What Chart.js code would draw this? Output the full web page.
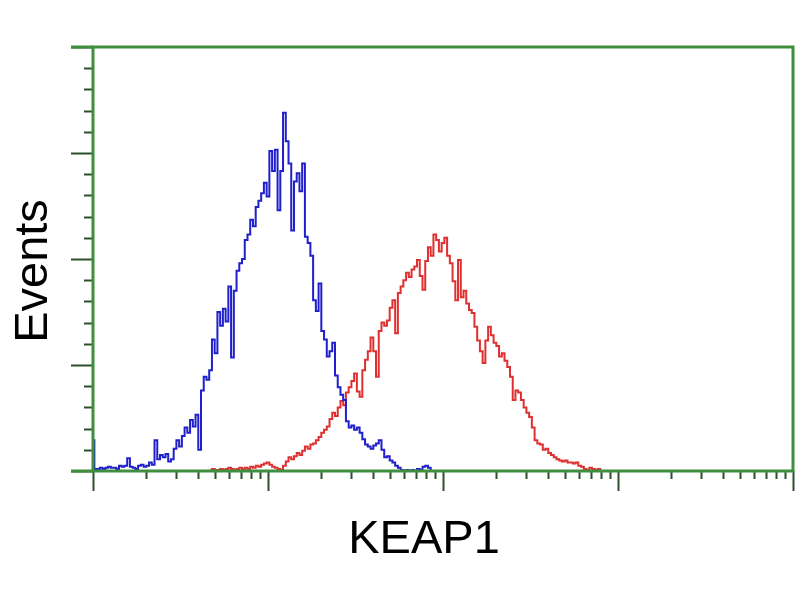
<!DOCTYPE html>
<html>
<head>
<meta charset="utf-8">
<script src="https://cdn.jsdelivr.net/npm/chart.js@4/dist/chart.umd.min.js"></script>
<style>
  body { margin: 0; background: #fff; }
  canvas { display: block; }
</style>
</head>
<body>
<canvas id="histo" width="800" height="600"></canvas>
<script>
const channelsPerDecade = 64;
const xTitle = 'KEAP1';
const yTitle = 'Events';

// Témoin (bleu), à partir du canal 0
const blueStart = 0;
const blueCounts = [
  29, 2, 2, 3, 2, 3, 4, 3, 3, 2,
  5, 4, 5, 12, 4, 3, 2, 5, 6, 4,
  5, 8, 6, 29, 11, 15, 13, 16, 9, 11,
  21, 29, 23, 33, 41, 36, 48, 42, 53, 20,
  76, 89, 86, 95, 124, 111, 150, 137, 153, 141,
  174, 107, 170, 189, 196, 200, 218, 223, 237, 231,
  249, 255, 262, 272, 259, 302, 283, 303, 246, 283,
  338, 311, 290, 227, 273, 281, 264, 290, 221, 215,
  203, 161, 151, 177, 132, 124, 108, 113, 121, 90,
  79, 72, 67, 47, 41, 43, 39, 41, 36, 30,
  25, 23, 21, 24, 26, 29, 20, 13, 14, 10,
  8, 5, 3, 1, 0, 1, 0, 1, 0, 2,
  1, 4, 5, 3, 0
];

// KEAP1 (rouge), à partir du canal 43
const redStart = 43;
const redCounts = [
  1, 2, 1, 1, 2, 1, 2, 3, 2, 1,
  2, 3, 2, 3, 2, 4, 3, 5, 4, 6,
  7, 8, 6, 4, 3, 2, 1, 5, 9, 13,
  11, 14, 17, 15, 19, 23, 21, 25, 26, 29,
  32, 36, 39, 42, 49, 55, 52, 60, 66, 62,
  74, 79, 85, 92, 75, 70, 95, 105, 113, 126,
  113, 89, 132, 140, 137, 142, 154, 161, 130, 168,
  174, 180, 187, 183, 190, 193, 199, 184, 171, 198,
  211, 203, 223, 218, 207, 215, 220, 203, 196, 179,
  161, 199, 164, 170, 158, 152, 149, 136, 123, 113,
  102, 123, 136, 128, 121, 118, 108, 111, 104, 98,
  89, 67, 76, 74, 67, 60, 55, 51, 41, 29,
  26, 25, 20, 21, 17, 15, 13, 11, 10, 9,
  10, 8, 8, 7, 8, 5, 4, 2, 1, 3,
  2, 1, 2, 0
];

// Graduations des axes
const xMajorTicks = [1, 10, 100, 1000, 10000];
const xMinorSteps = [2, 3, 4, 5, 6, 7, 8, 9];
const yMajorTicks = [0, 100, 200, 300, 400];
const yMinorStep = 20;

// Conversion canal -> intensité (échelle log)
function toPoints(start, counts) {
  return counts.map((c, i) => ({ x: Math.pow(10, (start + i) / channelsPerDecade), y: c }));
}

const green = '#3f8f3f';
const tickColor = '#2c4f2c';

// Plugin pour le cadre, les graduations et les titres
const framePlugin = {
  id: 'frame',
  afterDraw(chart) {
    const ctx = chart.ctx;
    const area = chart.chartArea;
    const xs = chart.scales.x;
    const ys = chart.scales.y;
    ctx.save();

    // graduations de l'axe Y
    ctx.strokeStyle = tickColor;
    ctx.lineWidth = 2;
    for (let v = 0; v <= 400; v += yMinorStep) {
      const y = Math.round(ys.getPixelForValue(v)) + 0.5;
      const len = yMajorTicks.includes(v) ? 22 : 9;
      ctx.beginPath();
      ctx.moveTo(area.left - len, y);
      ctx.lineTo(area.left, y);
      ctx.stroke();
    }

    // graduations de l'axe X
    xMajorTicks.forEach((m, idx) => {
      const x = Math.round(xs.getPixelForValue(m)) + 0.5;
      ctx.beginPath();
      ctx.moveTo(x, area.bottom);
      ctx.lineTo(x, area.bottom + 20);
      ctx.stroke();
      if (idx < xMajorTicks.length - 1) {
        xMinorSteps.forEach(k => {
          const xm = Math.round(xs.getPixelForValue(m * k)) + 0.5;
          ctx.beginPath();
          ctx.moveTo(xm, area.bottom);
          ctx.lineTo(xm, area.bottom + 8);
          ctx.stroke();
        });
      }
    });

    // cadre vert
    ctx.strokeStyle = green;
    ctx.lineWidth = 3;
    ctx.strokeRect(area.left, area.top, area.right - area.left, area.bottom - area.top);
    ctx.beginPath();
    ctx.moveTo(area.left - 22, area.bottom);
    ctx.lineTo(area.left, area.bottom);
    ctx.moveTo(area.left - 22, area.top);
    ctx.lineTo(area.left, area.top);
    ctx.stroke();

    // titres des axes
    ctx.fillStyle = '#000';
    ctx.font = '47px "Liberation Sans", Arial, sans-serif';
    ctx.textAlign = 'center';
    ctx.textBaseline = 'alphabetic';
    ctx.fillText(xTitle, 424, 553);
    ctx.translate(47, 271);
    ctx.rotate(-Math.PI / 2);
    ctx.fillText(yTitle, 0, 0);
    ctx.restore();
  }
};

const ctx = document.getElementById('histo').getContext('2d');
new Chart(ctx, {
  type: 'line',
  data: {
    datasets: [
      {
        label: 'Control',
        data: toPoints(blueStart, blueCounts),
        borderColor: '#1f1fcc',
        borderWidth: 2,
        pointRadius: 0,
        stepped: 'middle',
        fill: false
      },
      {
        label: 'KEAP1',
        data: toPoints(redStart, redCounts),
        borderColor: '#e02f2f',
        borderWidth: 2,
        pointRadius: 0,
        stepped: 'middle',
        fill: false
      }
    ]
  },
  options: {
    responsive: false,
    animation: false,
    layout: { padding: { left: 93, top: 47, right: 7, bottom: 129 } },
    plugins: {
      legend: { display: false },
      tooltip: { enabled: false }
    },
    scales: {
      x: { type: 'logarithmic', min: 1, max: 10000, display: false },
      y: { type: 'linear', min: 0, max: 400, display: false }
    }
  },
  plugins: [framePlugin]
});
</script>
</body>
</html>
